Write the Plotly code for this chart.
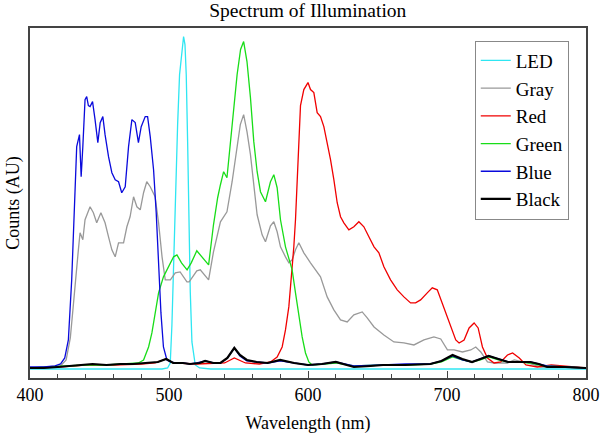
import plotly.graph_objects as go

# ---------------- data (wavelength nm, counts AU) ----------------
led_wl = [400, 495, 499, 500.9, 502.1, 503.3, 504.5, 506.2, 507.6, 508.6, 509.5, 510.5, 511.5,
          512.4, 513.4, 514.4, 515.3, 516.5, 518.9, 522, 530, 800]
led_ct = [-1, -1, 0, 5, 43, 110, 176, 243, 293, 306, 316, 331, 323,
          293, 226, 143, 76, 26, 3, 0, -1, -1]

gray_wl = [400, 415, 422, 426, 429, 431, 433, 434.8, 436, 438, 439.6, 443.2, 445.6, 448, 451, 454,
           456.5, 458.9, 461.3, 463.7, 467.3, 469.7, 472, 474.5, 476.9, 479.3, 481.7, 484, 486.5,
           490, 492.5, 495, 497.3, 501, 504.5, 508, 512.9, 514.5, 520, 522.5, 528.5, 532, 537,
           541.7, 545.4, 549, 551.3, 553.7, 556.1, 558.6, 561, 563.4, 567, 569.4, 573, 575.4,
           577.8, 580.2, 583.8, 586.2, 588.6, 591, 593.4, 597, 601.8, 606.6, 609, 613.8, 618.6,
           623.4, 628.2, 633, 639, 642.6, 647.5, 654.6, 661.8, 669, 676.2, 683.4, 690.6, 695.5,
           700.3, 705.1, 711.1, 717.1, 720.7, 724.3, 729.1, 733.9, 743.5, 748.4, 758, 767.6, 780, 800]
gray_ct = [0, 1, 2, 8, 30, 60, 95, 118, 135, 128, 148, 161, 155, 145, 155, 145,
           131, 118, 111, 125, 125, 141, 151, 171, 161, 158, 175, 186, 181,
           171, 145, 111, 88, 88, 95, 96, 86, 86, 97, 98, 88, 116, 146,
           156, 186, 223, 243, 253, 236, 213, 186, 153, 133, 126, 142, 146,
           136, 121, 111, 105, 108, 118, 125, 115, 105, 95, 91, 71, 58,
           48, 46, 53, 56, 50, 41, 33, 26, 25, 23, 28, 31, 29,
           18, 18, 16, 18, 21, 16, 6, 5, 5, 8, 5, 1, 1, 0]

red_wl = [400, 420, 440, 460, 480, 490, 498, 503, 520, 540, 547, 555, 565, 573, 577.8, 581.4,
          583.8, 586.2, 587.4, 588.6, 589.8, 591, 592.5, 593.5, 594.6, 597, 600, 601.8, 604.2,
          606.6, 609, 611.4, 613.8, 616.2, 618.6, 621, 623.4, 625.8, 629.4, 633, 636.6, 640.2,
          643.8, 647.5, 651, 654.6, 659.4, 664.2, 669, 673.8, 677.4, 681, 685.8, 689.4, 693,
          696.6, 699.1, 702.7, 706.3, 708.7, 712.3, 715.9, 719.5, 722.4, 725.5, 729.1, 733.9,
          738.7, 743.5, 747.2, 752, 756.8, 765, 775, 790, 800]
red_ct = [0, 1, 3, 3, 4, 5, 9, 5, 4, 5, 10, 5, 4, 6, 11, 21,
          38, 61, 81, 98, 121, 148, 195, 235, 262, 278, 285, 278, 275,
          255, 251, 241, 225, 208, 188, 165, 151, 145, 138, 141, 146, 141,
          131, 121, 115, 101, 88, 78, 71, 65, 65, 68, 75, 80, 78,
          65, 55, 41, 28, 25, 28, 40, 45, 40, 21, 10, 5,
          6, 13, 15, 10, 3, 1, 3, 1, 0]

green_wl = [400, 415, 425, 440, 455, 470, 478, 481.7, 485.3, 487.7, 490, 492.5, 496, 499.7,
            503.3, 505.7, 509, 513, 516, 520, 524, 528.5, 532, 535, 537, 539.3, 541.7, 545.4,
            549, 551.5, 553.7, 556.1, 558.6, 561, 563.4, 565.8, 569.4, 573, 575.4, 577.8, 580.2,
            583.8, 586.2, 588.6, 591, 593.4, 595.8, 598.2, 600.6, 603, 610, 620, 633, 645, 654,
            670, 688, 696, 704, 711, 718, 724, 730, 737, 744, 752, 760, 766, 772, 785, 800]
green_ct = [0, 1, 2, 3, 3, 4, 5, 8, 21, 35, 55, 75, 91, 101,
            111, 113, 105, 98, 105, 117, 110, 103, 143, 170, 183, 196, 190, 243,
            293, 318, 326, 306, 270, 226, 196, 176, 166, 186, 193, 180, 148,
            121, 108, 98, 75, 51, 31, 15, 6, 3, 4, 5, 2, 3, 3,
            3, 4, 6, 11, 8, 6, 8, 11, 8, 6, 6, 5, 3, 2, 1, 0]

blue_wl = [400, 410, 418, 422, 425, 427.6, 430, 431.7, 433.6, 435.6, 436.8, 438, 439.6, 440.8,
           442, 443.2, 445, 446.8, 448.8, 450.5, 452.4, 454, 456.5, 458.9, 461.3, 463.7, 466,
           468.5, 470.9, 473.3, 475.7, 478, 480, 482.9, 484.6, 486.5, 488.9, 490.8, 492.5, 494.2,
           496, 498.5, 501, 505, 510, 515, 520, 526, 532, 537, 542, 547, 551, 556, 563, 571, 580,
           590, 600, 610, 620, 633, 645, 654, 670, 688, 696, 704, 711, 718, 724, 730, 737, 744,
           752, 760, 766, 772, 785, 800]
blue_ct = [1, 1, 2, 4, 10, 28, 88, 155, 221, 233, 191, 221, 268, 271,
           262, 261, 266, 248, 225, 245, 251, 233, 211, 195, 188, 186, 175,
           181, 221, 248, 245, 225, 241, 251, 251, 231, 198, 155, 105, 55,
           21, 8, 6, 5, 5, 4, 5, 7, 5, 5, 10, 20, 12, 7, 6, 5, 7,
           5, 3, 4, 6, 2, 3, 3, 4, 4, 7, 12, 8, 6, 9, 12, 9, 6,
           6, 6, 4, 2, 1, 0]

black_wl = [400, 410, 420, 430, 438, 445, 455, 465, 474, 485, 492, 498, 503, 510, 515, 522, 526,
            532, 537, 542, 547, 551, 556, 563, 571, 580, 590, 600, 610, 620, 627, 633, 645, 654,
            670, 688, 696, 704, 711, 718, 724, 730, 737, 744, 752, 760, 766, 772, 785, 800]
black_ct = [0, 0, 1, 2, 3, 4, 3, 4, 4, 5, 6, 9, 5, 5, 4, 5, 7,
            5, 5, 10, 20, 13, 8, 6, 5, 8, 5, 3, 4, 6, 3, 1, 2, 3,
            3, 4, 7, 13, 9, 6, 9, 12, 9, 6, 6, 6, 4, 1, 1, 0]

series_names = ["LED", "Gray", "Red", "Green", "Blue", "Black"]
series_x = [led_wl, gray_wl, red_wl, green_wl, blue_wl, black_wl]
series_y = [led_ct, gray_ct, red_ct, green_ct, blue_ct, black_ct]
series_colors = ["#2EE6F2", "#999999", "#F00000", "#18DD18", "#0A0ADC", "#000000"]
series_widths = [1.3, 1.3, 1.3, 1.3, 1.3, 2.2]

FONT = "Liberation Serif"

fig = go.Figure()
for name, xs, ys, col, w in zip(series_names, series_x, series_y, series_colors, series_widths):
    fig.add_trace(go.Scatter(x=xs, y=ys, mode="lines", name=name, legendgroup=name,
                             line=dict(color=col, width=w)))

fig.update_layout(
    width=600, height=434,
    margin=dict(l=30, r=14, t=28, b=56, autoexpand=False),
    paper_bgcolor="white", plot_bgcolor="white",
    font=dict(family=FONT, color="black", size=18),
    title=dict(text="Spectrum of Illumination", x=0.513, xanchor="center",
               y=0.976, yanchor="middle",
               font=dict(family=FONT, size=19.5, color="black")),
    showlegend=True,
    legend=dict(x=0.969, y=0.964, xanchor="right", yanchor="top",
                bordercolor="#888888", borderwidth=1, bgcolor="white",
                font=dict(family=FONT, size=19), tracegroupgap=5.5,
                traceorder="normal", itemwidth=30),
    xaxis=dict(range=[400, 800], tickvals=[400, 500, 600, 700, 800], automargin=False,
               ticks="inside", ticklen=7, tickwidth=1, tickcolor="#444444",
               minor=dict(dtick=20, ticks="inside", ticklen=4, tickwidth=1, tickcolor="#444444"),
               showline=True, linecolor="#444444", linewidth=1.5, mirror=True,
               showgrid=False, zeroline=False,
               tickfont=dict(family=FONT, size=18),
               title=dict(text="Wavelength (nm)", font=dict(family=FONT, size=18), standoff=14)),
    yaxis=dict(range=[-10, 339.5], showticklabels=False, ticks="", automargin=False,
               showline=True, linecolor="#444444", linewidth=1.5, mirror=True,
               showgrid=False, zeroline=False,
               title=dict(text="Counts (AU)", font=dict(family=FONT, size=18), standoff=4)),
)

fig.write_html("out.html", config={"displayModeBar": False},
               post_script="document.body.style.margin='0';document.body.style.overflow='hidden';")
